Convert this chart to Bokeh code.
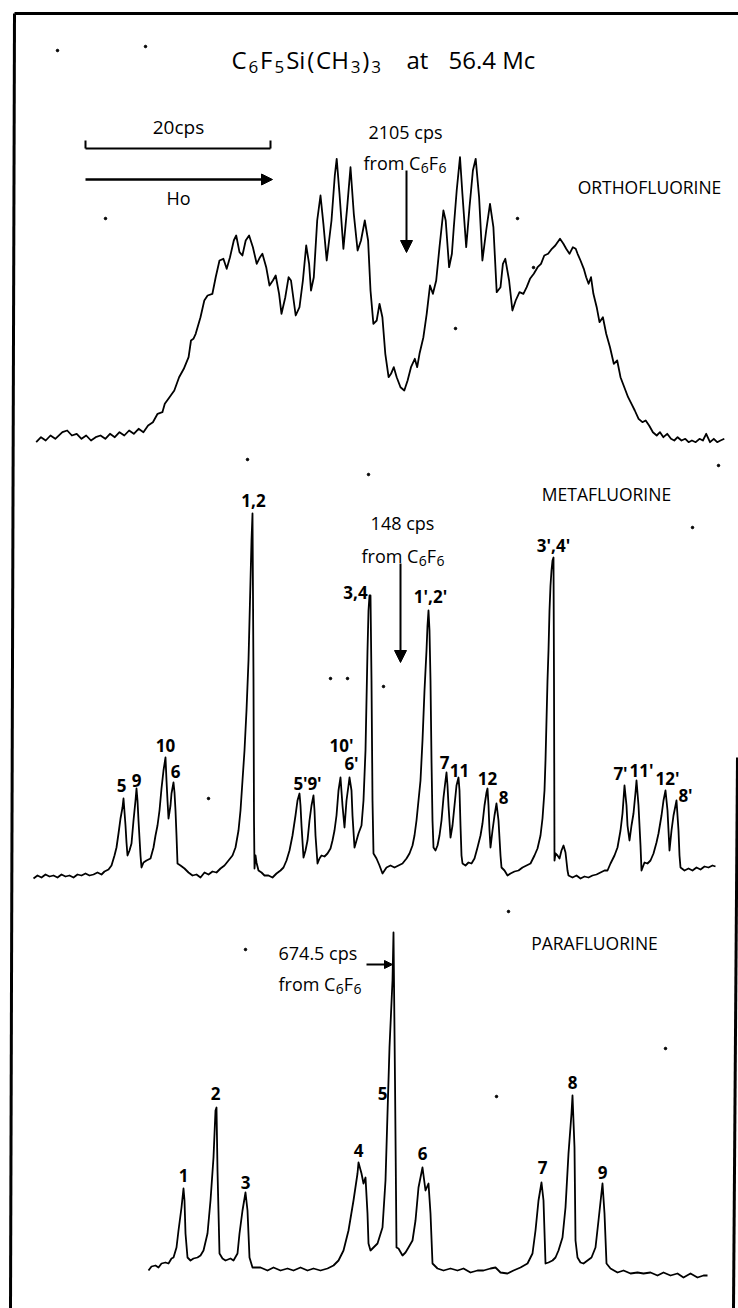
import numpy as np
from bokeh.plotting import figure
from bokeh.models import Range1d, ColumnDataSource, Arrow, NormalHead
from bokeh.core.properties import value
from bokeh.embed import file_html
from bokeh.resources import INLINE

# ---------------- data: (chart position, pen deflection above baseline) ----------------
ortho_trace = [(35.7,-1.7),(40.5,3.3),(45.2,0),(50,5),(54.8,1.7),(61.9,8.3),(66.7,10),(71.4,5),(76.2,6.7),(81,1.7),(85.7,5),(90.5,0),(95.2,3.3),(100,5),(104.8,1.7),(109.5,6.7),(114.3,3.3),(119,8.3),(123.8,5),(128.6,10),(133.3,6.7),(138.1,11.7),(142.9,8.3),(147.6,15),(152.4,18.3),(157.1,26.7),(161.9,28.3),(164.3,36.7),(169,43.3),(173.8,50),(178.6,63.3),(183.3,71.7),(188.1,83.3),(190.5,100),(192.9,101.7),(195.2,106.7),(200,123.3),(203.8,140),(207.1,145),(211.9,146.7),(215.2,163.3),(219,180),(222.9,181.7),(226.2,171.7),(229.5,183.3),(233.3,200),(235.7,205),(239,188.3),(241.9,185),(245.2,200),(248.6,205),(252.4,193.3),(256.2,176.7),(259.5,183.3),(261.9,186.7),(265.7,173.3),(269,155),(272.4,160),(275.2,165),(278.6,146.7),(281,126.7),(284.8,143.3),(288.1,163.3),(290.5,160),(295.2,125),(299,133.3),(302.4,160),(305.7,195),(308.6,176.7),(310.5,150),(313.3,163.3),(316.7,220),(320,245),(322.9,216.7),(326.2,180),(331,220),(334.3,265),(336.2,281.7),(339,246.7),(342.9,191.7),(346.7,233.3),(350,273.3),(353.3,226.7),(357.1,190),(360.5,200),(364.3,220),(367.6,200),(370,150),(372.9,116.7),(376.2,120),(379,136.7),(381.9,123.3),(384.8,86.7),(388.1,63.3),(390.5,66.7),(393.3,73.3),(396.2,63.3),(400,53.3),(403.8,50),(407.1,60),(410.5,73.3),(414.3,81.7),(416.7,73.3),(419,86.7),(422.9,103.3),(426.2,126.7),(429.5,155),(432.4,146.7),(435.7,160),(439,193.3),(442.9,230),(445.2,220),(448.6,173.3),(451.4,186.7),(453.3,213.3),(456.2,250),(459.5,283.3),(461.9,246.7),(465.7,193.3),(469,233.3),(472.4,270),(475.2,281.7),(478.6,243.3),(481.9,180),(485.7,210),(489.5,236.7),(492.9,213.3),(496.2,148.3),(500,153.3),(502.4,176.7),(504.8,181.7),(508.6,160),(511.9,130),(515.2,140),(519,148.3),(522.9,146.7),(526.2,153.3),(529.5,161.7),(533.3,166.7),(537.1,173.3),(540.5,176.7),(543.8,185),(547.6,186.7),(551.4,191.7),(554.8,195),(559.5,201.7),(562.9,196.7),(565.7,191.7),(569,186.7),(572.4,193.3),(575.2,191.7),(577.1,186.7),(580,180),(583.3,171.7),(585.7,163.3),(588.1,156.7),(590.5,163.3),(592.9,146.7),(596.2,133.3),(599,118.3),(602.4,123.3),(605.7,106.7),(609.5,93.3),(613.3,76.7),(616.7,80),(620,63.3),(623.8,53.3),(627.6,43.3),(631,36.7),(634.3,30),(638.1,21.7),(641.9,18.3),(645.2,20),(648.6,15),(652.4,8.3),(656.2,5),(659.5,8.3),(662.9,3.3),(666.7,6.7),(670.5,1.7),(673.8,0),(677.1,3.3),(681,0),(684.8,1.7),(688.1,-1.7),(691.4,0),(695.2,-1.7),(699,1.7),(702.4,0),(705.7,6.7),(709.5,-1.7),(713.3,1.7),(716.7,-1.7),(720,0),(723.8,1.7)]

meta_trace = [(33,2),(37,5),(41,3),(45,6),(49,4),(53,5),(57,3),(61,6),(65,4),(69,5),(73,3),(77,6),(81,5),(85,7),(89,5),(93,6),(97,8),(101,6),(104,9),(108,11),(111,15),(114,25),(116,33),(118,47),(120,62),(122,73),(123,82),(125,55),(126,38),(127,25),(129,30),(131,37),(133,60),(135,80),(136,92),(137,80),(138,60),(140,25),(141,13),(143,18),(146,20),(150,22),(153,33),(155,45),(157,55),(159,70),(161,92),(163,110),(165,123),(166,100),(167,80),(168,62),(170,75),(171,87),(173,98),(174,88),(175,70),(176,45),(177,17),(180,15),(184,12),(188,8),(192,5),(196,6),(200,3),(204,8),(208,6),(212,9),(216,8),(220,12),(224,15),(228,20),(232,25),(235,33),(238,50),(240,70),(242,100),(244,130),(246,170),(248,220),(249,260),(250,300),(251,340),(252,367),(253,200),(253.5,60),(254,12),(255,25),(256,18),(258,10),(261,8),(264,5),(268,5),(272,3),(276,7),(280,10),(283,13),(286,20),(289,30),(292,45),(295,65),(297,80),(299,87),(300,75),(301,55),(303,23),(305,30),(307,40),(309,60),(311,75),(313,85),(314,70),(315,45),(317,17),(319,22),(321,25),(324,24),(327,27),(330,32),(332,40),(334,50),(336,65),(338,90),(340,103),(342,75),(344,53),(346,80),(348,95),(349,103),(351,90),(352,65),(354,33),(356,40),(358,47),(361,55),(363,80),(365,130),(366,180),(367,230),(368,270),(369,285),(370,285),(371,200),(372,80),(373,27),(376,22),(379,15),(382,7),(386,13),(390,15),(394,13),(398,15),(402,17),(406,22),(409,27),(412,35),(414,45),(416,60),(418,80),(420,100),(422,140),(424,190),(426,230),(427,255),(428,270),(429,250),(430,200),(431,120),(432,60),(433,33),(435,30),(437,35),(439,45),(441,60),(443,83),(445,100),(446,108),(447,95),(448,75),(450,43),(452,55),(454,75),(456,95),(458,103),(459,90),(460,55),(461,25),(462,17),(465,15),(468,18),(471,17),(474,22),(477,33),(480,45),(482,57),(484,75),(486,88),(487,92),(488,75),(489,50),(490,33),(492,50),(494,65),(496,77),(498,60),(500,25),(501,13),(504,10),(507,5),(510,7),(514,9),(518,10),(522,13),(526,15),(530,17),(534,25),(537,32),(540,45),(542,62),(544,90),(545,120),(546,160),(547,200),(548,230),(549,270),(550,295),(551,310),(552,320),(553,323),(553.5,200),(554,20),(555,27),(557,25),(559,22),(561,30),(563,35),(565,28),(567,10),(568,5),(572,3),(576,5),(580,2),(584,4),(588,3),(592,5),(596,6),(600,8),(604,10),(607,10),(610,17),(614,25),(617,33),(620,50),(622,67),(624,95),(626,75),(627,55),(629,40),(631,55),(633,67),(635,88),(636,100),(638,75),(640,35),(641,10),(644,18),(647,17),(650,20),(653,27),(656,38),(658,47),(661,65),(663,80),(665,90),(667,70),(668,50),(669,30),(671,50),(673,65),(674,70),(676,80),(678,50),(679,25),(680,13),(684,10),(688,12),(692,10),(696,13),(700,11),(704,14),(708,13),(712,15),(715,14)]

para_trace = [(148,0),(151,4),(155,5),(158,3),(161,7),(165,8),(168,7),(171,12),(173,13),(176,23),(178,40),(181,63),(183,82),(184,70),(185,37),(187,13),(190,10),(193,12),(197,13),(200,15),(203,20),(207,37),(210,70),(213,113),(215,160),(216,163),(217,100),(219,17),(222,12),(225,10),(230,12),(233,10),(237,17),(239,37),(242,60),(245,78),(247,60),(249,13),(252,3),(260,3),(267,0),(273,3),(280,0),(287,2),(293,0),(300,3),(307,0),(313,2),(320,0),(327,2),(333,5),(338,10),(343,20),(348,40),(353,70),(357,97),(358,108),(361,97),(363,87),(365,93),(367,57),(368,27),(370,20),(377,27),(382,43),(385,90),(387,157),(389,223),(392,290),(393,338),(394.5,190),(396,23),(398,22),(402,15),(405,18),(408,23),(412,30),(415,50),(418,83),(422,103),(425,80),(428,87),(430,57),(432,7),(437,2),(443,0),(450,2),(457,0),(463,2),(470,-2),(477,0),(483,0),(490,2),(495,3),(500,-2),(507,-3),(513,0),(520,3),(527,7),(532,17),(535,40),(538,70),(541,88),(543,70),(545,7),(548,8),(552,10),(555,13),(558,20),(562,33),(565,63),(568,117),(571,157),(572,175),(574,123),(575,30),(577,13),(580,8),(583,7),(587,10),(591,13),(595,23),(598,50),(602,87),(604,57),(606,7),(610,2),(617,-2),(623,0),(630,-3),(637,-2),(643,-3),(650,-2),(657,-5),(663,-2),(670,-5),(677,-3),(683,-7),(690,-3),(697,-7),(703,-5),(707,-5)]

meta_peak_labels = ["5", "9", "10", "6", "1,2", "5'", "9'", "10'", "6'", "3,4", "1',2'", "7", "11", "12", "8", "3',4'", "7'", "11'", "12'", "8'"]
para_peak_labels = ["1", "2", "3", "4", "5", "6", "7", "8", "9"]

# ---------------- layout (positions of panels and annotations) ----------------
BASE = {"ortho": 440, "meta": 880, "para": 1270}
meta_label_pos = [(121,785),(136,780),(165,745),(175,771),(253,500),(300,783),(314,783),(341,745),(351,763),(355,592),(430,596),(444,762),(459,770),(487,778),(503,797),(553,545),(620,773),(641,770),(667,778),(685,795)]
para_label_pos = [(183,1175),(215,1093),(245,1182),(358,1150),(382,1093),(422,1153),(542,1167),(572,1082),(602,1172)]
specks = [(57,50),(145,46),(105,218),(517,218),(533,267),(455,328),(247,459),(368,474),(330,678),(347,678),(208,798),(383,686),(718,465),(692,527),(245,949),(508,911),(496,1096),(665,1048)]

FONT = value("Open Sans")
# Open Sans advance widths (em) used to lay out runs with subscripts
ADV = {"C": .633, "F": .533, "S": .547, "i": .253, "(": .296, ")": .296, "H": .739,
       "f": .347, "r": .408, "o": .604, "m": .933, " ": .26, "6": .572, "5": .572, "3": .572}

p = figure(width=738, height=1308, x_range=Range1d(0, 738), y_range=Range1d(1308, 0),
           output_backend="svg", toolbar_location=None, x_axis_type=None, y_axis_type=None,
           min_border=0)
p.grid.visible = False
p.outline_line_color = None
p.background_fill_color = "white"
p.border_fill_color = "white"

# frame
p.segment(x0=[14, 14, 737], y0=[13, 13, 757], x1=[10, 738, 733], y1=[1308, 13, 1308],
          line_color="black", line_width=3)

# traces
for key, trace in (("ortho", ortho_trace), ("meta", meta_trace), ("para", para_trace)):
    xs = np.array([t[0] for t in trace], dtype=float)
    ys = BASE[key] - np.array([t[1] for t in trace], dtype=float)
    p.line(xs, ys, line_color="black", line_width=1.8, line_join="round")

# specks
p.scatter([s[0] for s in specks], [s[1] for s in specks], size=2.5, color="black")

def txt(xs, ys, texts, size, align="center", baseline="middle", weight="normal"):
    src = ColumnDataSource(dict(x=xs, y=ys, t=texts))
    p.text(x="x", y="y", text="t", source=src, text_font=FONT, text_font_size=f"{size}px",
           text_align=align, text_baseline=baseline, text_color="black", text_font_style=weight)

def runs(x0, y0, parts, size, sub_size, sub_drop, gap=0.0):
    """parts: list of (text, is_sub); laid out left to right from x0 on baseline y0"""
    x = x0
    for t, sub in parts:
        s = sub_size if sub else size
        txt([x], [y0 + (sub_drop if sub else 0)], [t], s, align="left", baseline="alphabetic")
        x += sum(ADV.get(ch, .57) for ch in t) * s + gap

# title
runs(231, 59, [("C", 0), ("6", 1), ("F", 0), ("5", 1), ("Si", 0), ("(", 0), ("CH", 0),
               ("3", 1), (")", 0), ("3", 1)], 24, 17, 7, gap=1.8)
txt([406], [59], ["at"], 24, align="left", baseline="alphabetic")
txt([448], [59], ["56.4 Mc"], 24, align="left", baseline="alphabetic")

# scale bar and field arrow
p.segment(x0=[85, 85, 270], y0=[148, 140, 140], x1=[270, 85, 270], y1=[148, 148, 148],
          line_color="black", line_width=2)
p.add_layout(Arrow(end=NormalHead(size=11, fill_color="black", line_color="black"),
                   x_start=85, y_start=179, x_end=272, y_end=179, line_width=2.5, line_color="black"))
txt([178], [126], ["20cps"], 19)
txt([178], [197], ["Ho"], 18)

FROM = [("from C", 0), ("6", 1), ("F", 0), ("6", 1)]

# ortho
txt([405], [131], ["2105 cps"], 18)
runs(363, 162, FROM, 18, 14, 5)
p.add_layout(Arrow(end=NormalHead(size=12, fill_color="black", line_color="black"),
                   x_start=406, y_start=170, x_end=406, y_end=252, line_width=2, line_color="black"))
txt([649], [186], ["ORTHOFLUORINE"], 17.5)

# meta
txt([402], [522], ["148 cps"], 18)
runs(361, 555, FROM, 18, 14, 5)
p.add_layout(Arrow(end=NormalHead(size=12, fill_color="black", line_color="black"),
                   x_start=400, y_start=563, x_end=400, y_end=662, line_width=2, line_color="black"))
txt([606], [493], ["METAFLUORINE"], 17.5)
txt([q[0] for q in meta_label_pos], [q[1] for q in meta_label_pos], meta_peak_labels, 17, weight="bold")

# para
txt([278], [952], ["674.5 cps"], 18, align="left")
runs(278, 983, FROM, 18, 14, 5)
p.add_layout(Arrow(end=NormalHead(size=8, fill_color="black", line_color="black"),
                   x_start=366, y_start=964, x_end=392, y_end=964, line_width=2, line_color="black"))
txt([594], [942], ["PARAFLUORINE"], 17.5)
txt([q[0] for q in para_label_pos], [q[1] for q in para_label_pos], para_peak_labels, 17, weight="bold")

open("out.html", "w").write(file_html(p, INLINE))
